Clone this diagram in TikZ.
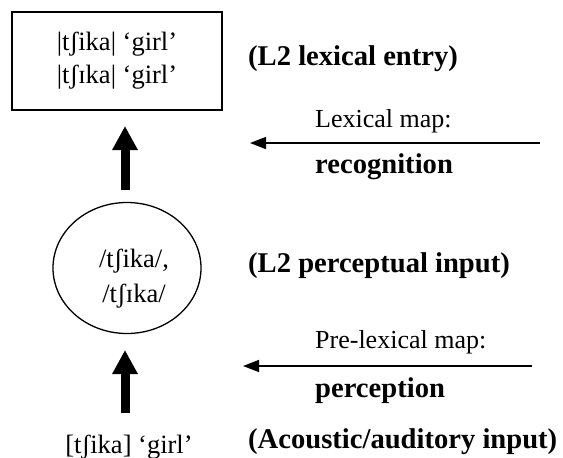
\documentclass[tikz,border=0pt]{standalone}
\usepackage{fontspec}
\setmainfont{Liberation Serif}
\usetikzlibrary{arrows.meta,shapes.geometric}
\tikzset{
  txt/.style={inner sep=0pt, anchor=base west, font=\fontsize{26}{33}\selectfont},
  btxt/.style={inner sep=0pt, anchor=base west, font=\fontsize{28.6}{33}\selectfont\bfseries},
  bigarrow/.style={line width=9pt, -{Triangle[width=24pt,length=24pt]}},
  maparrow/.style={line width=1.5pt, -{Triangle[width=12pt,length=16pt]}}
}
\begin{document}
\begin{tikzpicture}[x=1pt,y=-1pt]
\useasboundingbox (0,0) rectangle (563,458);
% lexical entry box
\node[draw, line width=1.5pt, minimum width=210pt, minimum height=98pt, inner sep=0pt,
      align=center, font=\fontsize{26.5}{33}\selectfont] (lex) at (117,61)
  {|tʃika| ‘girl’\\|tʃɪka| ‘girl’};
% perceptual input ellipse
\node[draw, ellipse, line width=1.3pt, minimum width=148pt, minimum height=131pt, inner sep=0pt] (perc) at (127,268) {};
\node[align=center, inner sep=0pt, font=\fontsize{26.5}{35}\selectfont] (perctxt) at (134,279) {/tʃika/,\\/tʃɪka/};
% acoustic input
\node[inner sep=0pt, anchor=base, font=\fontsize{26.5}{33}\selectfont] (ac) at (129,453) {[tʃika] ‘girl’};
% labels
\node[btxt] (l1) at (248,65) {(L2 lexical entry)};
\node[btxt] (l2) at (248,272) {(L2 perceptual input)};
\node[btxt] (l3) at (248,448) {(Acoustic/auditory input)};
\node[txt] (m1) at (315,127) {Lexical map:};
\node[btxt] (m1b) at (315,173) {recognition};
\node[txt] (m2) at (315,348) {Pre-lexical map:};
\node[btxt] (m2b) at (315,397) {perception};
% thick arrows
\coordinate (a1s) at (125,190);
\coordinate (a1e) at (125,126);
\draw[bigarrow] (a1s) -- (a1e);
\coordinate (a2s) at (125,413);
\coordinate (a2e) at (125,350);
\draw[bigarrow] (a2s) -- (a2e);
% map arrows
\coordinate (r1s) at (540,143);
\coordinate (r1e) at (250,143);
\draw[maparrow] (r1s) -- (r1e);
\coordinate (r2s) at (532,366);
\coordinate (r2e) at (243,366);
\draw[maparrow] (r2s) -- (r2e);
\end{tikzpicture}
\end{document}
